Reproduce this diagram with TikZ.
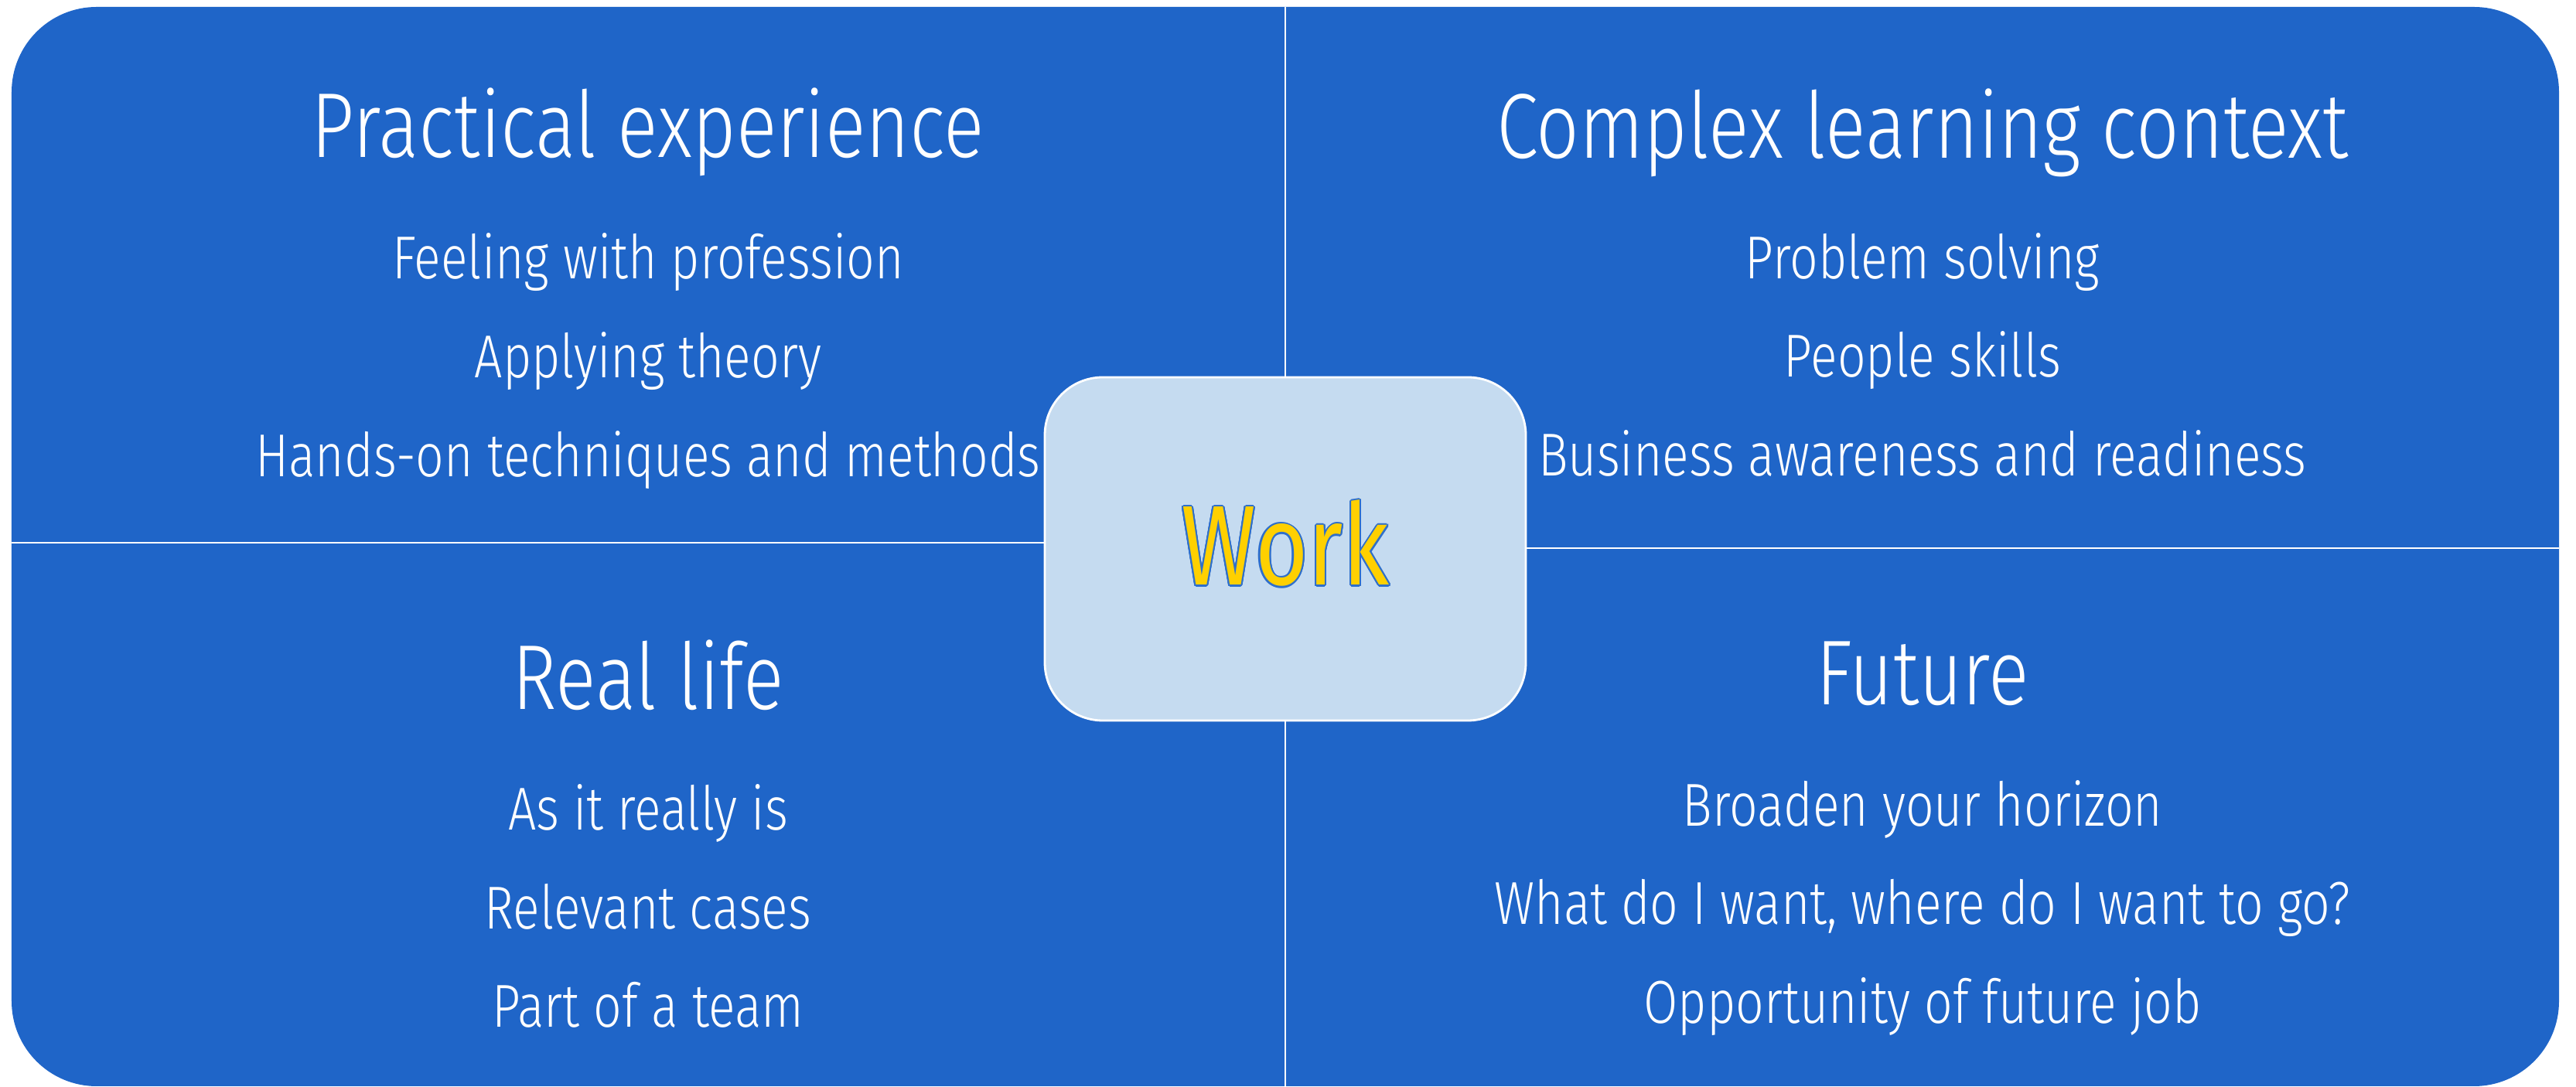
\documentclass[tikz,border=0pt]{standalone}
\usepackage{fontspec}
\setmainfont{Fira Sans Light}[FakeStretch=0.82]
\newfontfamily\workfont{Fira Sans}[FakeStretch=0.8]
\usepackage{contour}
\contourlength{0.6pt}
\usetikzlibrary{positioning}
\definecolor{panelblue}{HTML}{1F65C8}
\definecolor{coreblue}{HTML}{C5DBF0}
\definecolor{workyellow}{HTML}{FFD000}
\definecolor{workedge}{HTML}{2F6FCB}

\begin{document}
\begin{tikzpicture}[node distance={5mm},
    frame/.style = {fill=panelblue, rounded corners=1.1cm, inner sep=0pt, outer sep=0pt},
    split/.style = {draw=white, line width=0.8pt},
    core/.style = {draw=white, line width=0.8pt, fill=coreblue, rounded corners=0.75cm,
        minimum width=6.22cm, minimum height=4.44cm, outer sep=0pt, text=workyellow,
        font=\workfont\fontsize{41.7}{46}\selectfont, text height=0.94cm, text depth=0pt},
    head/.style = {text=white, font=\fontsize{33.9}{40}\selectfont, anchor=base, inner sep=0pt},
    item/.style = {text=white, font=\fontsize{22.3}{27}\selectfont, inner sep=0pt}]
    \useasboundingbox (0,0) rectangle (33.31,14.06);
    % Panels
    \node[frame, minimum width=32.94cm, minimum height=13.96cm] (frame) at (16.62,6.99) {};
    \node[core] (core) at (16.62,6.96) {\contour{workedge}{Work}};
    % Splits
    \draw[split] (core.north) -- (core.north |- frame.north);
    \draw[split] (core.south) -- (core.south |- frame.south);
    \draw[split] ([yshift=0.8mm]core.west) -- ([yshift=0.8mm]core.west -| frame.west);
    \draw[split] ([yshift=0.1mm]core.east) -- ([yshift=0.1mm]core.east -| frame.east);
    % Top left
    \node[head] (pe) at (8.38,12.02) {Practical experience};
    \node[item, below=1.57cm of pe.base, anchor=base] (pe1) {Feeling with profession};
    \node[item, below=1.28cm of pe1.base, anchor=base] (pe2) {Applying theory};
    \node[item, below=1.28cm of pe2.base, anchor=base] (pe3) {Hands-on techniques and methods};
    % Top right
    \node[head] (cl) at (24.86,12.01) {Complex learning context};
    \node[item, below=1.56cm of cl.base, anchor=base] (cl1) {Problem solving};
    \node[item, below=1.27cm of cl1.base, anchor=base] (cl2) {People skills};
    \node[item, below=1.28cm of cl2.base, anchor=base] (cl3) {Business awareness and readiness};
    % Bottom left
    \node[head] (rl) at (8.38,4.88) {Real life};
    \node[item, below=1.56cm of rl.base, anchor=base] (rl1) {As it really is};
    \node[item, below=1.28cm of rl1.base, anchor=base] (rl2) {Relevant cases};
    \node[item, below=1.27cm of rl2.base, anchor=base] (rl3) {Part of a team};
    % Bottom right
    \node[head] (fu) at (24.86,4.94) {Future};
    \node[item, below=1.57cm of fu.base, anchor=base] (fu1) {Broaden your horizon};
    \node[item, below=1.27cm of fu1.base, anchor=base] (fu2) {What do I want, where do I want to go?};
    \node[item, below=1.28cm of fu2.base, anchor=base] (fu3) {Opportunity of future job};
\end{tikzpicture}
\end{document}
